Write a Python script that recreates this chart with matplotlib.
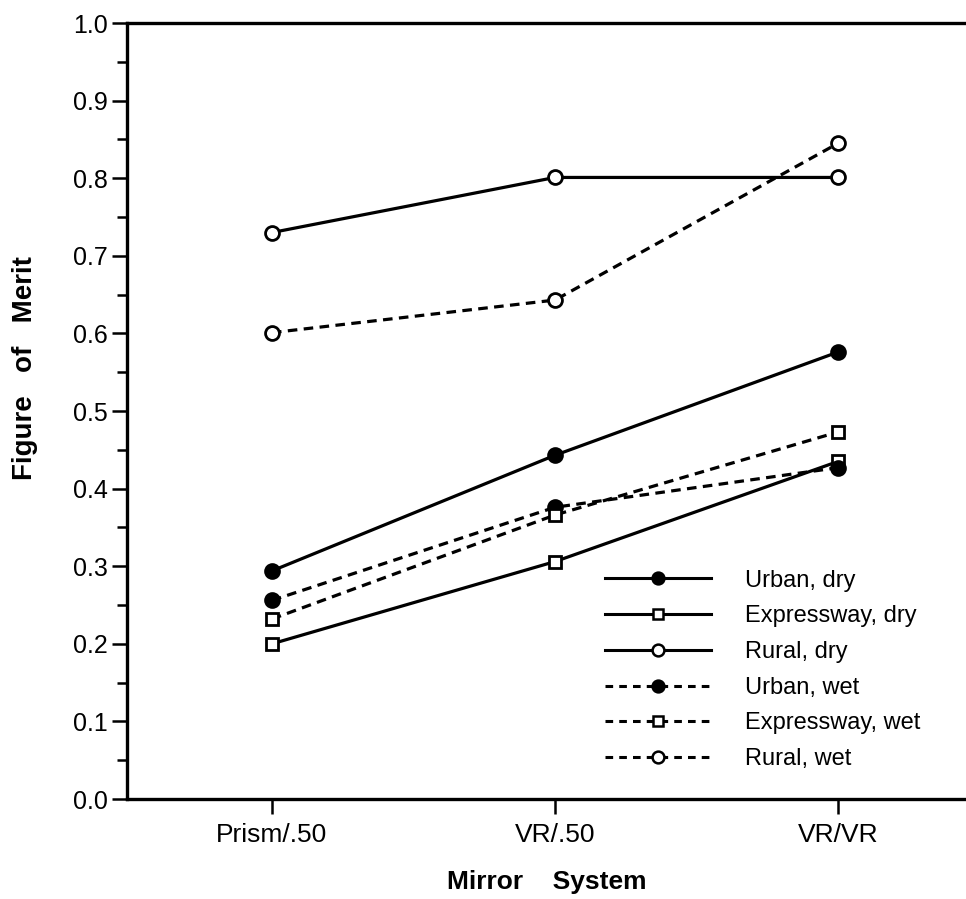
import numpy as np
import matplotlib.pyplot as plt
from matplotlib.ticker import MultipleLocator, FormatStrFormatter

# mirror systems along the x axis
systems = ["Prism/.50", "VR/.50", "VR/VR"]

# figure of merit per road type and condition
urban_dry = [0.294, 0.443, 0.576]
expressway_dry = [0.200, 0.306, 0.435]
rural_dry = [0.730, 0.801, 0.801]
urban_wet = [0.256, 0.376, 0.427]
expressway_wet = [0.232, 0.366, 0.473]
rural_wet = [0.601, 0.643, 0.845]

labels = ["Urban, dry", "Expressway, dry", "Rural, dry",
          "Urban, wet", "Expressway, wet", "Rural, wet"]

plt.rcParams['font.family'] = ['Liberation Sans', 'DejaVu Sans']

fig = plt.figure(figsize=(9.66, 8.99), dpi=100)
ax = fig.add_axes([0.1315, 0.1112, 0.8685, 0.8632])

x = np.arange(len(systems))
series = [urban_dry, expressway_dry, rural_dry, urban_wet, expressway_wet, rural_wet]
markers = ['o', 's', 'o', 'o', 's', 'o']
fills = ['black', 'white', 'white', 'black', 'white', 'white']
styles = ['-', '-', '-', (0, (3, 2)), (0, (3, 2)), (0, (3, 2))]

handles = []
for vals, m, fc, ls, lab in zip(series, markers, fills, styles, labels):
    ms = 10 if m == 'o' else 9
    ax.plot(x, vals, linestyle=ls, color='black', lw=2.3,
            marker=m, markersize=ms, markerfacecolor=fc,
            markeredgecolor='black', markeredgewidth=2.0, zorder=3)
    # legend proxy with slightly smaller marker
    h, = ax.plot([], [], linestyle=ls if ls == '-' else (0, (2.5, 2)),
                 color='black', lw=2.2,
                 marker=m, markersize=8.5 if m == 'o' else 7.5,
                 markerfacecolor=fc, markeredgecolor='black',
                 markeredgewidth=1.8, label=lab)
    handles.append(h)

ax.set_xlim(-0.512, 2.452)
ax.set_ylim(0.0, 1.0)
ax.set_xticks(x)
ax.set_xticklabels(systems, fontsize=19)
ax.yaxis.set_major_locator(MultipleLocator(0.1))
ax.yaxis.set_minor_locator(MultipleLocator(0.05))
ax.yaxis.set_major_formatter(FormatStrFormatter('%.1f'))
ax.tick_params(axis='y', which='major', labelsize=18)

ax.tick_params(axis='y', which='major', direction='out', length=11, width=1.8, pad=3)
ax.tick_params(axis='y', which='minor', direction='out', length=7, width=1.8)
ax.tick_params(axis='x', which='major', direction='out', length=11, width=1.8, pad=6)

ax.spines['right'].set_visible(False)
for side in ['left', 'top', 'bottom']:
    ax.spines[side].set_linewidth(2.4)

ax.set_ylabel("Figure   of   Merit", fontsize=20, fontweight='bold')
ax.yaxis.label.set_va('center')
ax.yaxis.set_label_coords(-0.122, 0.555)
ax.set_xlabel("Mirror    System", fontsize=19, fontweight='bold', labelpad=17)

ax.legend(handles=handles, loc='lower left', bbox_to_anchor=(0.558, 0.025),
          frameon=False, fontsize=17, handlelength=4.5, handletextpad=1.43,
          labelspacing=0.58, borderaxespad=0)

fig.savefig("out.png", dpi=100)
